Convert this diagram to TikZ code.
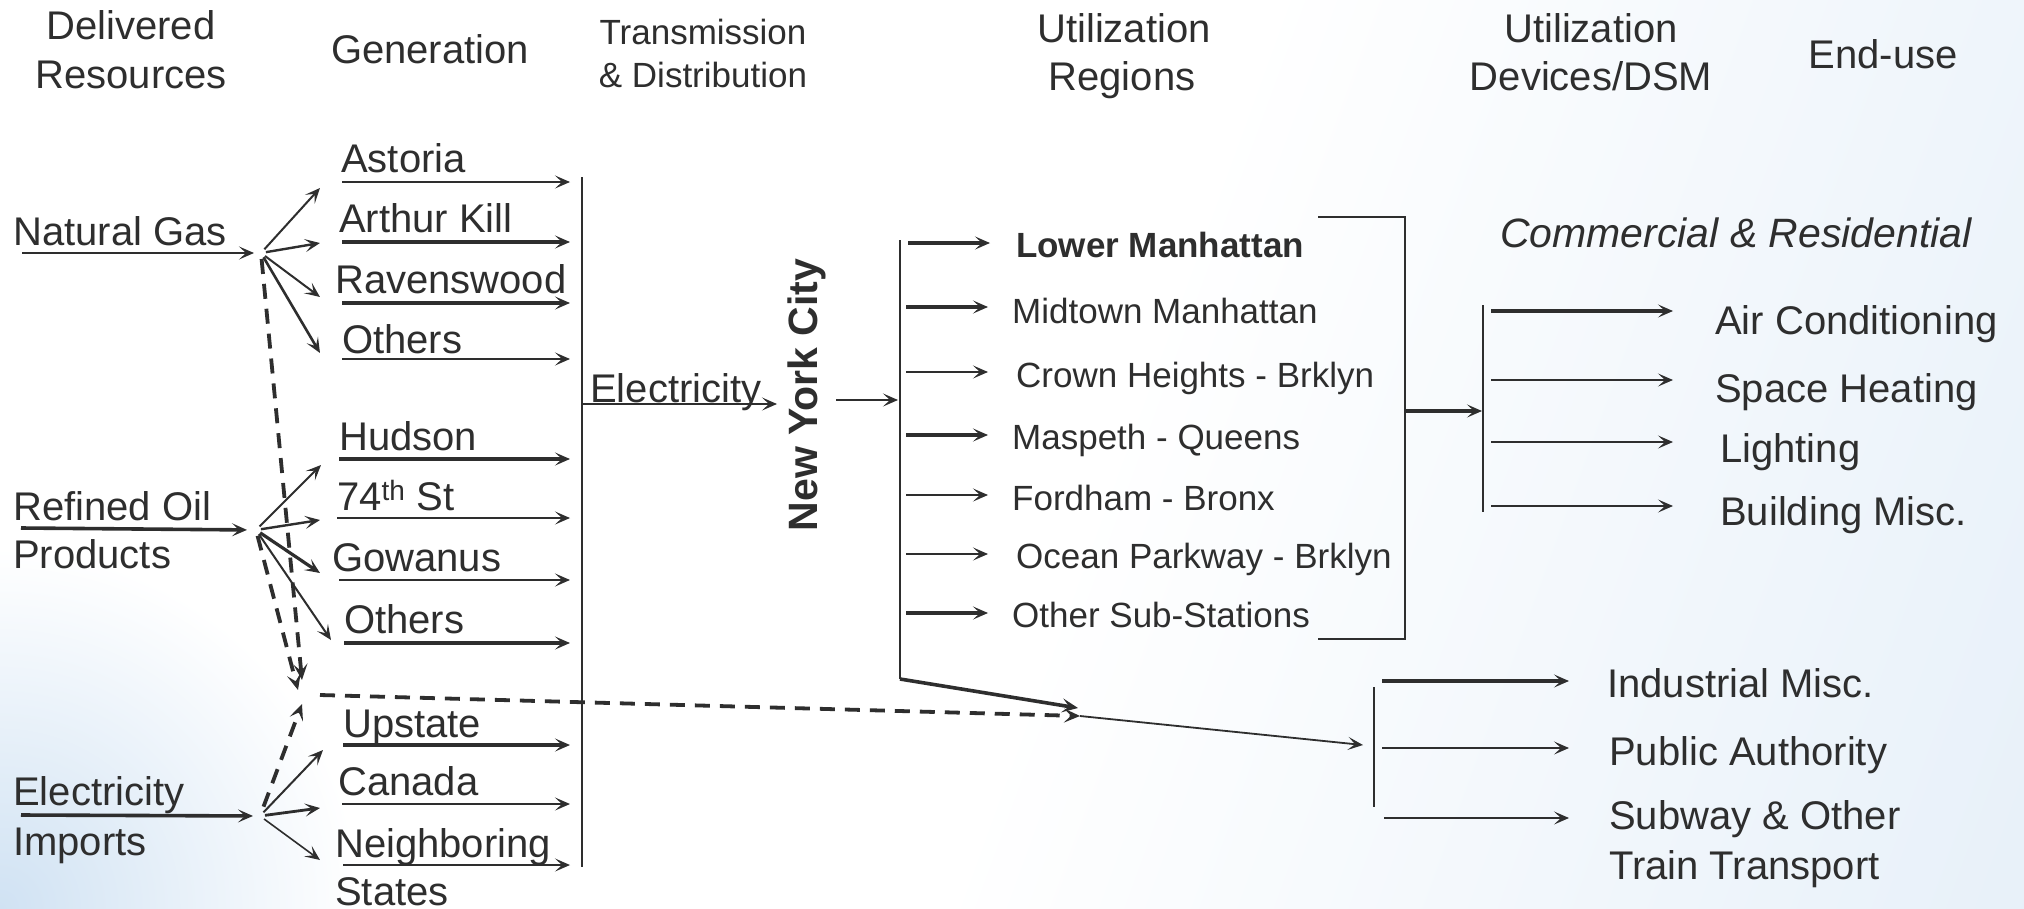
\documentclass[tikz,border=0pt]{standalone}
\usepackage{fontspec}
\setmainfont{Liberation Sans}
\usetikzlibrary{arrows.meta}
\definecolor{ink}{HTML}{2E2E2E}
\definecolor{bgblue}{HTML}{D0E2F3}
\pgfdeclarehorizontalshading{bgright}{100bp}{color(0bp)=(white); color(52bp)=(white); color(100bp)=(bgblue)}
\begin{document}
\begin{tikzpicture}[x=1pt,y=-1pt,
  lbl/.style={anchor=base west, inner sep=0pt, text=ink, font=\fontsize{40}{48}\selectfont},
  mlbl/.style={anchor=base west, inner sep=0pt, text=ink, font=\fontsize{35}{42}\selectfont},
  hdr/.style={anchor=base, inner sep=0pt, text=ink, font=\fontsize{40}{48}\selectfont},
  hdrs/.style={anchor=base, inner sep=0pt, text=ink, font=\fontsize{35}{42}\selectfont},
  arr/.style={draw=ink, line width=1.6pt, -{Stealth[length=15pt,width=13pt,inset=7pt]}},
  bus/.style={draw=ink, line width=2pt},
  dashline/.style={draw=ink, line width=3.8pt, dash pattern=on 15pt off 10pt, -{Stealth[length=16pt,width=14pt,inset=7pt]}}
]
% background
\useasboundingbox (0,0) rectangle (2024,908);
\fill[white] (0,0) rectangle (2024,908);
\begin{scope}
  \clip (0,0) rectangle (2024,908);
  \shade[shading=bgright, shading angle=-20] (-200,-200) rectangle (2224,1108);
  \shade[inner color=bgblue, outer color=white] (0,908) circle (360);
\end{scope}

% headers
\node[hdr] (h1a) at (131,39) {Delivered};
\node[hdr] (h1b) at (131,88) {Resources};
\node[hdr] (h2) at (430,63) {Generation};
\node[hdrs] (h3a) at (703,44) {Transmission};
\node[hdrs] (h3b) at (703,87) {\& Distribution};
\node[hdr] (h4a) at (1124,42) {Utilization};
\node[hdr] (h4b) at (1122,90) {Regions};
\node[hdr] (h5a) at (1591,42) {Utilization};
\node[hdr] (h5b) at (1591,90) {Devices/DSM};
\node[hdr] (h6) at (1883,68) {End-use};

% delivered resources
\node[lbl] (ng) at (13,245) {Natural Gas};
\node[lbl] (oil) at (13,520) {Refined Oil};
\node[lbl] (oilb) at (13,568) {Products};
\node[lbl] (imp) at (13,805) {Electricity};
\node[lbl] (impb) at (13,855) {Imports};
\coordinate (ngs) at (22,253);  \coordinate (ngf) at (261,253);
\coordinate (oils) at (21,528); \coordinate (oilf) at (256,530);
\coordinate (imps) at (21,815); \coordinate (impf) at (260,816);
\draw[arr, line width=2.4pt, shorten >=7pt] (ngs) -- (ngf);
\draw[arr, line width=3.6pt, shorten >=9pt] (oils) -- (oilf);
\draw[arr, line width=3.6pt, shorten >=7pt] (imps) -- (impf);

% generation labels with underline arrows
\foreach \n/\t/\x/\b/\ay/\sx/\w in {
  ast/Astoria/341/172/182/342/1.6,
  ak/Arthur Kill/339/232/242/342/3.2,
  rav/Ravenswood/335/293/303/342/3.6,
  ngo/Others/342/353/359/342/1.8,
  hud/Hudson/339/450/459/339/3.2,
  st/{74\textsuperscript{th} St}/337/510/518/337/1.6,
  gow/Gowanus/332/571/580/339/2.0,
  oilo/Others/344/633/643/344/3.2,
  up/Upstate/343/737/745/343/3.2,
  can/Canada/338/795/804/342/1.8,
  nb/Neighboring/335/857/865/343/1.6}{
  \node[lbl] (\n) at (\x,\b) {\t};
  \coordinate (\n-s) at (\sx,\ay);
  \coordinate (\n-e) at (570,\ay);
  \draw[arr, line width=\w pt] (\n-s) -- (\n-e);
}
\node[lbl] (states) at (335,905) {States};

% fan-out arrows
\foreach \f/\tx/\ty/\w in {ngf/320/188/2.0, ngf/320/243/2.4, ngf/320/297/2.0, ngf/320/353/2.6,
  oilf/321/465/2.0, oilf/320/520/2.4, oilf/320/573/3.2, oilf/331/640/2.0,
  impf/323/750/2.0, impf/320/808/2.8, impf/320/860/1.6}{
  \coordinate (tip) at (\tx,\ty);
  \draw[arr, line width=\w pt, shorten <=5pt] (\f) -- (tip);
}

% dashed flows
\coordinate (dA) at (302,680);
\coordinate (dB) at (298,690);
\coordinate (dC) at (302,704);
\coordinate (dS) at (320,695);
\coordinate (mg) at (1080,716);
\draw[dashline, shorten <=6pt] (ngf) -- (dA);
\draw[dashline, shorten <=6pt] (oilf) -- (dB);
\draw[dashline, shorten <=10pt] (impf) -- (dC);
\draw[dashline] (dS) -- (mg);

% transmission bus
\coordinate (tdt) at (582,177);
\coordinate (tdb) at (582,867);
\draw[bus] (tdt) -- (tdb);
\node[lbl] (elec) at (590,402) {Electricity};
\coordinate (els) at (582,404);
\coordinate (ele) at (777,404);
\draw[arr, line width=1.8pt] (els) -- (ele);

% New York City
\node[rotate=90, inner sep=0pt, text=ink, font=\bfseries\fontsize{41}{48}\selectfont] (nyc) at (807,395) {New York City};
\coordinate (nycs) at (836,400);
\coordinate (nyce) at (898,400);
\draw[arr, line width=1.6pt] (nycs) -- (nyce);
\coordinate (nbt) at (900,240);
\coordinate (nbb) at (900,679);
\draw[bus, line width=2.4pt] (nbt) -- (nbb);

% regions
\foreach \n/\t/\x/\b/\ay/\w in {
  mm/Midtown Manhattan/1012/323/307/3.2,
  ch/Crown Heights - Brklyn/1016/387/372/1.6,
  mq/Maspeth - Queens/1012/449/435/3.2,
  fb/Fordham - Bronx/1012/510/495/1.8,
  op/Ocean Parkway - Brklyn/1016/568/554/1.6,
  os/Other Sub-Stations/1012/627/613/3.6}{
  \node[mlbl] (\n) at (\x,\b) {\t};
  \coordinate (\n-s) at (906,\ay);
  \coordinate (\n-e) at (988,\ay);
  \draw[arr, line width=\w pt] (\n-s) -- (\n-e);
}
\node[mlbl, font=\bfseries\fontsize{35}{42}\selectfont] (lm) at (1016,257) {Lower Manhattan};
\coordinate (lm-s) at (908,243);
\coordinate (lm-e) at (990,243);
\draw[arr, line width=3.2pt] (lm-s) -- (lm-e);

% bracket
\coordinate (bt) at (1318,217);
\coordinate (btr) at (1405,217);
\coordinate (bbr) at (1405,639);
\coordinate (bb) at (1318,639);
\draw[bus] (bt) -- (btr) -- (bbr) -- (bb);
\coordinate (bm) at (1405,411);
\coordinate (crin) at (1482,411);
\draw[arr, line width=3.2pt] (bm) -- (crin);

% commercial & residential
\node[lbl, font=\itshape\fontsize{41}{48}\selectfont] (cr) at (1500,247) {Commercial \& Residential};
\coordinate (crt) at (1483,305);
\coordinate (crb) at (1483,512);
\draw[bus, line width=2.6pt] (crt) -- (crb);
\foreach \n/\t/\x/\b/\ay/\w in {
  ac/Air Conditioning/1715/334/311/3.2,
  sh/Space Heating/1715/402/380/1.6,
  li/Lighting/1720/462/442/1.6,
  bmi/Building Misc./1720/525/506/1.6}{
  \node[lbl] (\n) at (\x,\b) {\t};
  \coordinate (\n-s) at (1491,\ay);
  \coordinate (\n-e) at (1673,\ay);
  \draw[arr, line width=\w pt] (\n-s) -- (\n-e);
}

% industrial branch
\coordinate (mgin) at (1078,708);
\draw[arr, line width=3.6pt, -{Stealth[length=16pt,width=14pt,inset=7pt]}] (nbb) -- (mgin);
\coordinate (ibin) at (1363,745);
\draw[arr, line width=1.8pt] (mg) -- (ibin);
\coordinate (ibt) at (1374,687);
\coordinate (ibb) at (1374,807);
\draw[bus, line width=2.4pt] (ibt) -- (ibb);
\foreach \n/\t/\x/\b/\ay/\sx/\w in {
  im/Industrial Misc./1607/697/681/1382/3.6,
  pa/Public Authority/1609/765/748/1382/1.6,
  sw/Subway \& Other/1609/829/818/1384/1.6}{
  \node[lbl] (\n) at (\x,\b) {\t};
  \coordinate (\n-s) at (\sx,\ay);
  \coordinate (\n-e) at (1569,\ay);
  \draw[arr, line width=\w pt] (\n-s) -- (\n-e);
}
\node[lbl] (swb) at (1609,879) {Train Transport};
\end{tikzpicture}
\end{document}
